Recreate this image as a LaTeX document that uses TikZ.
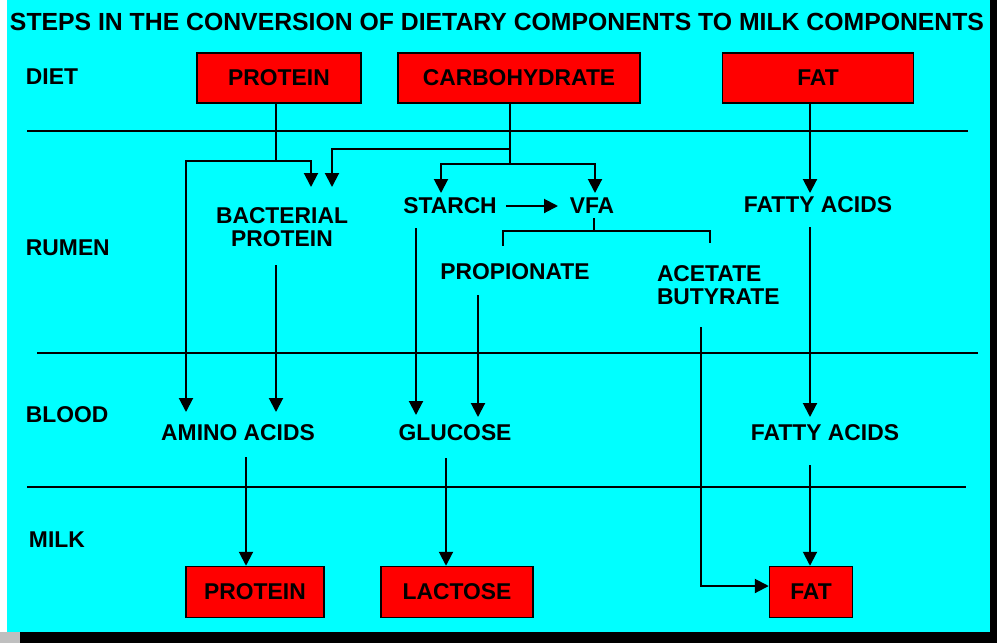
\documentclass[tikz,border=0pt]{standalone}
\usepackage{fontspec}
\setmainfont{Liberation Sans}
\usetikzlibrary{arrows.meta,calc}

\definecolor{screen}{RGB}{0,255,255}
\definecolor{boxred}{RGB}{255,0,0}

\tikzset{
  lbl/.style={font=\bfseries\fontsize{13}{13}\selectfont, inner sep=0pt, align=center},
  box/.style={draw, fill=boxred, line width=0.03cm, inner sep=0pt, minimum height=1cm, font=\bfseries\fontsize{13}{13}\selectfont},
  tip/.style={-{Triangle[width=0.28cm,length=0.28cm]}}
}

\begin{document}
\begin{tikzpicture}[x=0.02cm, y=-0.02cm, line width=0.04cm]
\useasboundingbox (0,0) rectangle (997,643);
\fill[white] (0,0) rectangle (997,643);
\fill[screen] (7,0) rectangle (990,632);
\fill[black] (990,0) rectangle (997,643);
\fill[black] (20,632) rectangle (997,643);
\fill[gray!50] (0,632) rectangle (20,643);

% title and levels
\node[lbl, font=\bfseries\fontsize{14.1}{15}\selectfont] (title) at (497,22) {STEPS IN THE CONVERSION OF DIETARY COMPONENTS TO MILK COMPONENTS};
\node[lbl, anchor=west] (diet) at (25,77) {DIET};
\node[lbl, anchor=west] (rumen) at (25,248) {RUMEN};
\node[lbl, anchor=west] (blood) at (25,415) {BLOOD};
\node[lbl, anchor=west] (milk) at (28,540) {MILK};
\draw (27,131) -- (968,131);
\draw (37,353) -- (978,353);
\draw (27,487) -- (966,487);

% diet
\node[box, minimum width=3.28cm] (dprot) at (279,78) {PROTEIN};
\node[box, minimum width=4.84cm] (dcarb) at (519,78) {CARBOHYDRATE};
\node[box, minimum width=3.82cm] (dfat) at (818,78) {FAT};

% rumen
\node[lbl] (bact) at (282,227) {BACTERIAL\\PROTEIN};
\node[lbl] (starch) at (450,206) {STARCH};
\node[lbl] (vfa) at (592,206) {VFA};
\node[lbl] (rfatty) at (818,205) {FATTY ACIDS};
\node[lbl] (prop) at (515,272) {PROPIONATE};
\node[lbl, anchor=west, align=left] (acet) at (656,285) {ACETATE\\BUTYRATE};

% blood
\node[lbl] (amino) at (238,433) {AMINO ACIDS};
\node[lbl] (gluc) at (455,433) {GLUCOSE};
\node[lbl] (bfatty) at (825,433) {FATTY ACIDS};

% milk
\node[box, minimum width=2.76cm, minimum height=1.02cm] (mprot) at (255,592) {PROTEIN};
\node[box, minimum width=3.04cm, minimum height=1.02cm] (mlact) at (457,592) {LACTOSE};
\node[box, minimum width=1.66cm, minimum height=1.02cm] (mfat) at (811,592) {FAT};

% protein
\coordinate (pj) at (276,161);
\draw ($(dprot.south)+(-3,0)$) -- (pj);
\draw[tip] (pj) -| ($(amino)+(-52,-21)$);
\draw[tip] (pj) -| ($(bact)+(29,-40)$);

% carbohydrate
\coordinate (ck) at (510,149);
\coordinate (cj) at (510,164);
\draw ($(dcarb.south)+(-9,0)$) -- (cj);
\draw[tip] (ck) -| ($(bact)+(50,-40)$);
\draw[tip] (cj) -| ($(starch)+(-9,-13)$);
\draw[tip] (cj) -| ($(vfa)+(3,-13)$);
\draw[tip] ($(starch)+(56,0)$) -- ($(vfa)+(-34,0)$);

% vfa
\coordinate (vj) at (594,231);
\draw ($(vfa)+(2,12)$) -- (vj);
\draw (vj) -| ($(prop)+(-12,-26)$);
\draw (vj) -| ($(acet.west)+(54,-42)$);

% fat
\draw[tip] ($(dfat.south)+(-8,0)$) -- ($(rfatty)+(-8,-12)$);
\draw[tip] ($(rfatty)+(-8,22)$) -- ($(bfatty)+(-15,-16)$);
\draw[tip] ($(bfatty)+(-15,32)$) -- ($(mfat.north)+(-1,0)$);

% to blood
\draw[tip] ($(bact)+(-6,38)$) -- ($(amino)+(38,-21)$);
\draw[tip] ($(starch)+(-34,22)$) -- ($(gluc)+(-39,-18)$);
\draw[tip] ($(prop)+(-37,23)$) -- ($(gluc)+(23,-16)$);

% to milk
\draw[tip] ($(amino)+(8,24)$) -- ($(mprot.north)+(-9,0)$);
\draw[tip] ($(gluc)+(-9,25)$) -- ($(mlact.north)+(-11,0)$);
\draw[tip] ($(acet.west)+(45,42)$) |- ($(mfat.west)+(0,-6)$);
\end{tikzpicture}
\end{document}
